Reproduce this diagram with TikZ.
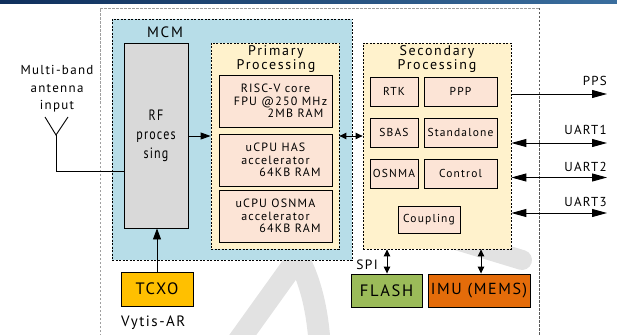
\documentclass[tikz,border=0pt]{standalone}
\usepackage{fontspec}
\setmainfont{PT Sans}[LetterSpace=10]
\newfontfamily\rffont{PT Sans}[FakeStretch=0.8,LetterSpace=8]
\newfontfamily\titlefont{PT Sans}[LetterSpace=12]
\usetikzlibrary{arrows.meta}
\definecolor{mcmblue}{HTML}{B7DDE8}
\definecolor{yfill}{HTML}{FFF2CC}
\definecolor{pfill}{HTML}{FCE4D6}
\definecolor{rfgrey}{HTML}{D9D9D9}
\definecolor{tcxoc}{HTML}{FFC000}
\definecolor{flashc}{HTML}{9BBB59}
\definecolor{imuc}{HTML}{E46C0A}
\definecolor{navyL}{HTML}{0F2F5C}
\definecolor{navyR}{HTML}{3A6E9E}
\definecolor{wmgrey}{HTML}{E2E2E2}
\newcommand\myfs[2]{\fontsize{#1}{#2}\selectfont}
\begin{document}
\begin{tikzpicture}[x=1pt,y=-1pt,
  solidbox/.style={draw, line width=0.9pt, inner sep=0pt, align=center},
  dashbox/.style={draw, line width=0.8pt, dash pattern=on 2pt off 1.5pt, inner sep=0pt, align=center},
  pbox/.style={solidbox, fill=pfill, font=\myfs{12}{12.5}},
  sbox/.style={solidbox, fill=pfill, minimum height=29pt, font=\myfs{11.5}{12}},
  title/.style={inner sep=0pt, align=center},
  lbl/.style={inner sep=0pt, font=\myfs{13}{13}},
  wm/.style={draw=wmgrey, line width=22pt, line cap=round, line join=round},
  arrR/.style={line width=0.9pt, -{Triangle[length=15pt,width=8pt]}},
  arrLR/.style={line width=0.9pt, {Triangle[length=15pt,width=8pt]}-{Triangle[length=15pt,width=8pt]}},
  arrS/.style={line width=0.9pt, {Triangle[length=7pt,width=6.5pt]}-{Triangle[length=7pt,width=6.5pt]}},
  arrU/.style={line width=0.9pt, -{Triangle[length=11pt,width=8pt]}},
  arrM/.style={line width=0.9pt, -{Triangle[length=10pt,width=7pt]}}
]
\useasboundingbox (0,0) rectangle (617,334);
% watermark
\draw[wm] (232,350) -- (298,258) .. controls (310,280) and (318,310) .. (320,350);
\draw[wm, line width=20pt] (430,232) -- (522,260);
% top band
\shade[left color=navyL, right color=navyR] (0,0) rectangle (617,3.5);
% outer dashed frame
\draw[gray!75, line width=0.8pt, dash pattern=on 2.5pt off 1.5pt] (100,340) -- (100,8) -- (539,8);
\draw[black!65, line width=0.7pt, dash pattern=on 2.5pt off 1.5pt] (539,8) -- (539,340);
% MCM
\node[dashbox, fill=mcmblue, minimum width=240pt, minimum height=241pt] (mcm) at (232,139.5) {};
\node[title, font=\titlefont\myfs{15}{15}] (mcmt) at (165,32) {MCM};
\node[solidbox, fill=rfgrey, minimum width=64pt, minimum height=185pt, font=\rffont\myfs{15}{19}] (rf) at (156,135.5) {RF\\proces\\sing};
% primary
\node[dashbox, fill=yfill, minimum width=128pt, minimum height=206pt] (prim) at (275,146) {};
\node[title, font=\titlefont\myfs{14}{12}] (primt) at (276,59) {Primary\\Processing};
\node[pbox, minimum width=113pt, minimum height=52pt] (p1) at (275.5,101) {RISC-V core\\\hspace*{10pt}FPU @250 MHz\\\hspace*{40pt}2MB RAM};
\node[pbox, minimum width=113pt, minimum height=52pt] (p2) at (275.5,160) {uCPU HAS\\accelerator\\\hspace*{29pt}64KB RAM};
\node[pbox, minimum width=113pt, minimum height=52pt] (p3) at (275.5,216) {uCPU OSNMA\\accelerator\\\hspace*{29pt}64KB RAM};
% secondary
\node[dashbox, fill=yfill, minimum width=148pt, minimum height=206pt] (sec) at (437,146) {};
\node[title, font=\titlefont\myfs{14}{12}] (sect) at (437,59) {Secondary\\Processing};
\node[sbox, minimum width=48pt] (rtk) at (394,91.5) {RTK};
\node[sbox, minimum width=73pt] (ppp) at (460.5,91.5) {PPP};
\node[sbox, minimum width=48pt] (sbas) at (394,132.5) {SBAS};
\node[sbox, minimum width=73pt] (stand) at (460.5,132.5) {Standalone};
\node[sbox, minimum width=48pt] (osn) at (394,173.5) {OSNMA};
\node[sbox, minimum width=73pt] (ctrl) at (460.5,173.5) {Control};
\node[sbox, minimum width=62pt, minimum height=27pt] (coup) at (429,219.5) {Coupling};
% lower boxes
\node[solidbox, fill=tcxoc, minimum width=72pt, minimum height=34pt, font=\myfs{16.5}{17}] (tcxo) at (157,289) {TCXO};
\node[solidbox, fill=flashc, minimum width=71pt, minimum height=33pt, font=\myfs{16.5}{17}] (flash) at (386.5,290.5) {FLASH};
\node[solidbox, fill=imuc, minimum width=102pt, minimum height=33pt, font=\myfs{16}{17}] (imu) at (479,290.5) {IMU (MEMS)};
\node[title, font=\myfs{15}{15}, anchor=west] (vytis) at (121,323) {Vytis-AR};
% antenna
\node[title, font=\myfs{13}{17.5}] (antt) at (57,89) {Multi-band\\antenna\\input};
\coordinate (ant) at (56,135);
\coordinate (antl) at (45,117);
\coordinate (antr) at (68,117);
\draw[line width=0.9pt] (antl) -- (ant) -- (antr);
\draw[line width=0.9pt] (ant) |- (rf.west |- 0,171);
% internal arrows
\draw[arrM] (rf.east |- 0,136) -- (prim.west |- 0,136);
\draw[arrS] (prim.east |- 0,136) -- (sec.west |- 0,136);
\draw[arrU] (tcxo.north -| 157,0) -- (rf.south -| 157,0);
\draw[arrS] (sec.south -| 387,0) -- (flash.north -| 387,0);
\draw[arrS] (sec.south -| 481,0) -- (imu.north -| 481,0);
\node[lbl, font=\myfs{13.5}{13}] (spi) at (367,265) {SPI};
% outputs
\coordinate (ppse) at (607,94);
\coordinate (u1e) at (607,143);
\coordinate (u2e) at (607,177.5);
\coordinate (u3e) at (607,213);
\draw[arrR] (sec.east |- ppse) -- (ppse);
\draw[arrLR] (sec.east |- u1e) -- (u1e);
\draw[arrLR] (sec.east |- u2e) -- (u2e);
\draw[arrLR] (sec.east |- u3e) -- (u3e);
\node[lbl, anchor=east] (ppsl) at (607,81) {PPS};
\node[lbl, anchor=east] (u1l) at (607,130) {UART1};
\node[lbl, anchor=east] (u2l) at (607,166.5) {UART2};
\node[lbl, anchor=east] (u3l) at (607,202) {UART3};
\end{tikzpicture}
\end{document}
